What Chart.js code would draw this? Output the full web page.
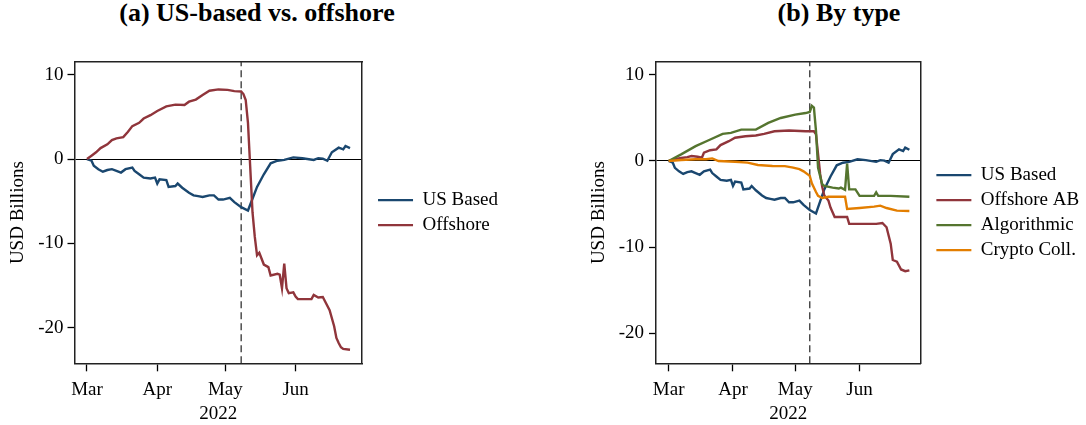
<!DOCTYPE html>
<html>
<head>
<meta charset="utf-8">
<script src="https://cdn.jsdelivr.net/npm/chart.js@4.4.0/dist/chart.umd.min.js"></script>
<style>
  html, body { margin: 0; padding: 0; background: #fff; }
  body { width: 1086px; height: 425px; position: relative; overflow: hidden; font-family: "Liberation Serif", "Times New Roman", serif; }
  .title { position: absolute; top: -2px; width: 400px; text-align: center; font-weight: bold; font-size: 26px; line-height: 30px; color: #000; }
  .panel { position: absolute; top: 0; height: 425px; }
</style>
</head>
<body>
<div class="title" style="left:57px">(a) US-based vs. offshore</div>
<div class="title" style="left:639px">(b) By type</div>
<div class="panel" style="left:0px;width:520px"><canvas id="chartA"></canvas></div>
<div class="panel" style="left:580px;width:520px"><canvas id="chartB"></canvas></div>

<script>
// x is days since 1 March 2022
var monthDays = [0, 31, 61, 92];
var monthLabels = ['Mar', 'Apr', 'May', 'Jun'];
var yTicks = [10, 0, -10, -20];
var eventDay = 68; // dashed line, 8 May

var usDays = [0, 2, 3, 5, 7, 9, 11, 13, 15, 17, 20, 21, 23, 25, 28, 30, 31, 32, 35, 36, 39, 40, 42, 45, 47, 49, 51, 54, 56, 58, 60, 63, 65, 68, 71, 73, 75, 78, 81, 84, 87, 91, 95, 100, 102, 104, 106, 108, 111, 113, 114, 116];
var usValues = [0, -0.2, -0.8, -1.2, -1.5, -1.3, -1.2, -1.4, -1.6, -1.2, -1.0, -1.4, -1.8, -2.2, -2.3, -2.2, -2.9, -2.4, -2.5, -3.3, -3.2, -2.9, -3.4, -4.0, -4.3, -4.4, -4.5, -4.3, -4.3, -4.8, -4.8, -4.6, -5.1, -5.7, -6.1, -4.7, -3.3, -1.8, -0.5, -0.2, -0.1, 0.2, 0.1, -0.1, 0.1, 0.05, -0.2, 0.8, 1.35, 1.15, 1.55, 1.3];

var offDays = [0, 2, 4, 6, 9, 11, 13, 16, 18, 20, 23, 25, 28, 31, 35, 39, 43, 45, 48, 51, 54, 58, 62, 65, 68, 69, 70, 71, 72, 73, 74, 75, 76, 78, 80, 81, 84, 85, 86, 87, 88, 89, 91, 92, 93, 99, 100, 102, 104, 107, 109, 110, 111, 112, 113, 116];
var offValues = [0, 0.4, 0.8, 1.3, 1.75, 2.25, 2.45, 2.6, 3.2, 3.9, 4.3, 4.8, 5.2, 5.7, 6.25, 6.45, 6.4, 6.8, 7.05, 7.6, 8.1, 8.25, 8.2, 8.05, 8.0, 7.7, 7.0, 4.3, -1.0, -6.3, -9.2, -11.4, -11.1, -12.5, -12.8, -13.8, -13.6, -13.7, -15.3, -12.4, -15.3, -15.9, -15.8, -16.3, -16.6, -16.6, -16.1, -16.4, -16.35, -17.9, -19.8, -21.2, -21.8, -22.3, -22.5, -22.6];

var abDays = [0, 3, 6, 9, 11, 14, 16, 17, 20, 23, 25, 29, 32, 37, 42, 46, 51, 58, 66, 70, 71, 73, 74, 75, 77, 78, 80, 86, 87, 92, 100, 103, 105, 107, 108, 110, 112, 114, 116];
var abValues = [0, 0.2, 0.35, 0.45, 0.58, 0.5, 0.38, 0.96, 1.25, 1.35, 1.85, 2.3, 2.7, 2.88, 2.96, 3.15, 3.46, 3.54, 3.46, 3.46, 3.1, -1.5, -3.0, -4.0, -4.6, -5.4, -6.5, -6.5, -7.3, -7.3, -7.3, -7.2, -7.7, -9.6, -11.5, -11.7, -12.6, -12.8, -12.7];

var algDays = [0, 6, 13, 19, 26, 30, 35, 42, 48, 54, 61, 66, 68, 69, 70, 71, 72, 74, 75, 79, 82, 83, 85, 86, 87, 88, 90, 92, 99, 100, 101, 107, 116];
var algValues = [0, 0.77, 1.73, 2.38, 3.15, 3.27, 3.65, 3.65, 4.42, 5.0, 5.38, 5.57, 5.7, 6.4, 6.2, 3.5, -0.8, -2.7, -2.9, -3.1, -3.2, -3.1, -3.35, -0.3, -3.3, -3.3, -3.3, -4.05, -4.05, -3.65, -4.05, -4.05, -4.15];

var ccDays = [0, 6, 13, 18, 21, 24, 32, 38, 43, 50, 56, 60, 63, 65, 68, 69, 71, 72, 74, 77, 85, 86, 92, 99, 102, 105, 110, 116];
var ccValues = [0, 0.12, 0.2, 0.2, 0.3, 0, -0.08, -0.19, -0.46, -0.58, -0.6, -0.77, -0.95, -1.2, -1.73, -2.6, -3.6, -4.04, -4.3, -4.15, -4.15, -5.58, -5.46, -5.3, -5.19, -5.46, -5.77, -5.8];

var navy = '#1a476f', maroon = '#90353b', green = '#55752f', orange = '#e37e00';

Chart.defaults.font.family = '"Liberation Serif", "Times New Roman", serif';
Chart.defaults.font.size = 19;
Chart.defaults.color = '#000';

function points(days, vals) {
  return days.map(function (d, i) { return { x: d, y: vals[i] }; });
}

function series(label, days, vals, color) {
  return { label: label, data: points(days, vals), borderColor: color, backgroundColor: color,
           borderWidth: 2.4, pointRadius: 0, tension: 0, fill: false };
}

function makePanel(id, lines, p) {
  var datasets = lines.map(function (s, i) {
    s.order = lines.length - i; // later series drawn on top, like the original
    return s;
  });
  datasets.push({
    label: '', data: [{ x: eventDay, y: p.yMin }, { x: eventDay, y: p.yMax }],
    borderColor: '#333', borderWidth: 1.3, borderDash: [7, 4], pointRadius: 0, order: 99
  });
  var frame = { display: true, color: '#222', width: 1.5 };

  new Chart(document.getElementById(id), {
    type: 'line',
    data: { datasets: datasets },
    options: {
      responsive: true,
      maintainAspectRatio: false,
      animation: false,
      layout: { padding: { left: 0, right: p.padRight, top: 62, bottom: 0 } },
      plugins: {
        title: { display: false },
        tooltip: { enabled: false },
        legend: {
          position: 'right',
          align: 'center',
          fullSize: false,
          maxWidth: 300,
          labels: {
            usePointStyle: true,
            pointStyle: 'line',
            pointStyleWidth: 35,
            padding: 6,
            color: '#000',
            filter: function (item) { return item.text !== ''; },
            sort: function (a, b) { return a.datasetIndex - b.datasetIndex; }
          }
        }
      },
      scales: {
        x: {
          type: 'linear',
          position: 'bottom',
          min: p.xMin,
          max: 121.3,
          afterBuildTicks: function (s) { s.ticks = monthDays.map(function (v) { return { value: v }; }); },
          afterFit: function (s) { s.height = 61.7; },
          ticks: {
            autoSkip: false, maxRotation: 0, padding: 7, color: '#000',
            callback: function (v, i) { return monthLabels[i]; }
          },
          grid: { display: true, drawOnChartArea: false, drawTicks: true, tickLength: 8, tickColor: '#000', tickWidth: 1.3 },
          border: frame,
          title: { display: true, text: '2022', color: '#000', padding: 0 }
        },
        y: {
          position: 'left',
          min: p.yMin,
          max: p.yMax,
          afterBuildTicks: function (s) { s.ticks = yTicks.map(function (v) { return { value: v }; }); },
          afterFit: function (s) { s.width = p.yWidth; },
          ticks: { padding: p.tickPad, color: '#000' },
          grid: {
            display: true, drawTicks: true, tickLength: 7, tickColor: '#000', tickWidth: 1.3, lineWidth: 1,
            color: function (ctx) { return ctx.tick && ctx.tick.value === 0 ? '#000' : 'rgba(0,0,0,0)'; }
          },
          border: frame,
          title: { display: true, text: 'USD Billions', color: '#000', padding: p.titlePad }
        },
        x2: {
          type: 'linear', position: 'top', min: 0, max: 1,
          afterFit: function (s) { s.height = 0; },
          ticks: { display: false },
          grid: { display: true, drawOnChartArea: false, drawTicks: false },
          border: frame
        },
        y2: {
          type: 'linear', position: 'right', min: 0, max: 1,
          afterFit: function (s) { s.width = 10; },
          ticks: { display: false },
          grid: { display: true, drawOnChartArea: false, drawTicks: false },
          border: frame
        }
      }
    }
  });
}

// legend width = 6 + 35 + 9.5 + text + 10; right padding keeps the plot frame where the original has it
makePanel('chartA', [
  series('US Based', usDays, usValues, navy),
  series('Offshore', offDays, offValues, maroon)
], { yMin: -24.2, yMax: 11.5, xMin: -5.5, yWidth: 74.5, padRight: 12, tickPad: 4, titlePad: 6.5 });

makePanel('chartB', [
  series('US Based', usDays, usValues, navy),
  series('Offshore AB', abDays, abValues, maroon),
  series('Algorithmic', algDays, algValues, green),
  series('Crypto Coll.', ccDays, ccValues, orange)
], { yMin: -23.5, yMax: 11.5, xMin: -6.1, yWidth: 76, padRight: 10.8, tickPad: 5, titlePad: 8 });
</script>
</body>
</html>
